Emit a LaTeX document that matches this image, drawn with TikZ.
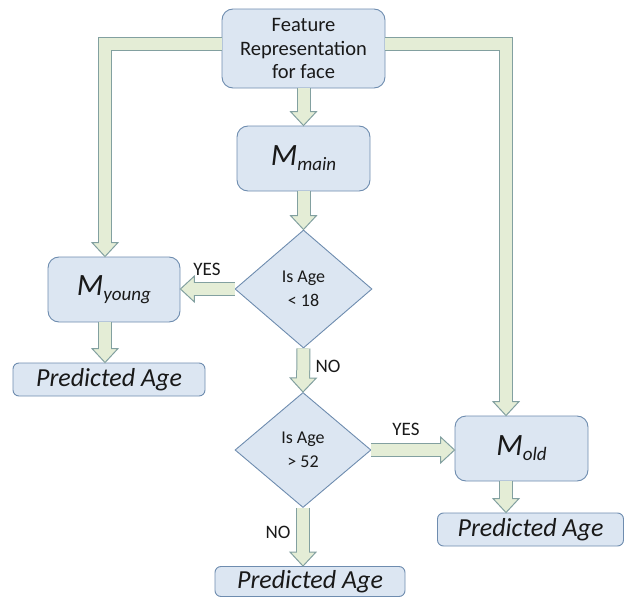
\documentclass[tikz,border=0pt]{standalone}
\usepackage{fontspec}
\setmainfont{Carlito}
\usetikzlibrary{shapes.geometric,calc}
\definecolor{boxfill}{RGB}{220,230,242}
\definecolor{boxline}{RGB}{110,140,175}
\definecolor{arrowfill}{RGB}{228,237,214}
\definecolor{arrowline}{RGB}{130,160,160}
\tikzset{
  box/.style={draw=boxline, fill=boxfill, rounded corners=11pt, line width=0.9pt,
    text=black!90, inner sep=0pt, align=center},
  model/.style={box, minimum width=133pt, minimum height=65pt,
    font=\fontsize{31}{32}\selectfont},
  outbox/.style={box, rounded corners=6pt, font=\fontsize{26}{28}\selectfont\itshape},
  decision/.style={diamond, draw=boxline, fill=boxfill, line width=0.9pt, inner sep=0pt,
    minimum width=137pt, minimum height=118pt, align=center, text=black!90,
    font=\fontsize{18}{23.5}\selectfont},
  lbl/.style={font=\fontsize{19}{20}\selectfont, text=black!90},
  shaftedge/.style={draw=arrowline, line width=14pt, line join=miter},
  shaftfill/.style={draw=arrowfill, line width=12pt, line join=miter},
  headshape/.style={fill=arrowfill, draw=arrowline, line width=1pt, line join=miter}
}
\newcommand{\Msub}[1]{\textit{M}\raisebox{-5pt}{\fontsize{19}{19}\selectfont\itshape #1}}
% fat arrow: #1 leading path, #2 last point before the head, #3 tip
\newcommand{\fatarrow}[3]{%
  \path ($(#3)!14pt!(#2)$) coordinate (hb)
    ($(hb)!13pt!90:(#3)$) coordinate (hl)
    ($(hb)!13pt!-90:(#3)$) coordinate (hr)
    ($(hb)!-2pt!(#2)$) coordinate (hin);
  \draw[shaftedge] #1 (#2) -- (hb);
  \filldraw[headshape] (#3) -- (hl) -- (hr) -- cycle;
  \draw[shaftfill] #1 (#2) -- (hin);
}
\begin{document}
\begin{tikzpicture}[x=1pt,y=-1pt]
  \useasboundingbox (0,0) rectangle (625,597);
  % boxes
  \node[box, minimum width=163pt, minimum height=79pt, font=\fontsize{20.5}{23.5}\selectfont]
    (feat) at (303.5,48.5) {Feature\\Representation\\for face};
  \node[model] (main) at (303.5,158.5) {\Msub{main}};
  \node[decision] (dia1) at (303.5,289) {Is Age\\< 18};
  \node[model, minimum width=132pt] (young) at (114,289.5) {\Msub{young}};
  \node[outbox, minimum width=192pt, minimum height=33pt] (predL) at (109,379.5) {Predicted Age};
  \node[decision, minimum width=136pt, minimum height=115pt] (dia2) at (303,450) {Is Age\\> 52};
  \node[model] (old) at (521.5,448.5) {\Msub{old}};
  \node[outbox, minimum width=186pt, minimum height=33pt] (predR) at (530.5,529.5) {Predicted Age};
  \node[outbox, minimum width=190pt, minimum height=30pt] (predB) at (310,581.5) {Predicted Age};
  % labels
  \node[lbl] (yes1) at (207,269) {YES};
  \node[lbl] (no1) at (328,366) {NO};
  \node[lbl] (yes2) at (406,429) {YES};
  \node[lbl] (no2) at (278,532) {NO};
  % bends
  \coordinate (lbend) at (105,44);
  \coordinate (rbend) at (506,44);
  \coordinate (ytop) at (lbend |- young.north);
  \coordinate (otop) at (rbend |- old.north);
  \coordinate (ybot) at (lbend |- young.south);
  \coordinate (ltip) at (lbend |- predL.north);
  \coordinate (obot) at (rbend |- old.south);
  \coordinate (rtip) at (rbend |- predR.north);
  \coordinate (yside) at (young.east |- dia1.west);
  \coordinate (oside) at (old.west |- dia2.east);
  \coordinate (btip) at (dia2.south |- predB.north);
  % arrows
  \fatarrow{}{feat.south}{main.north}
  \fatarrow{(feat.west |- lbend) --}{lbend}{ytop}
  \fatarrow{(feat.east |- rbend) --}{rbend}{otop}
  \fatarrow{}{main.south}{dia1.north}
  \fatarrow{}{dia1.west}{yside}
  \fatarrow{}{ybot}{ltip}
  \fatarrow{}{dia1.south}{dia2.north}
  \fatarrow{}{dia2.east}{oside}
  \fatarrow{}{obot}{rtip}
  \fatarrow{}{dia2.south}{btip}
\end{tikzpicture}
\end{document}
